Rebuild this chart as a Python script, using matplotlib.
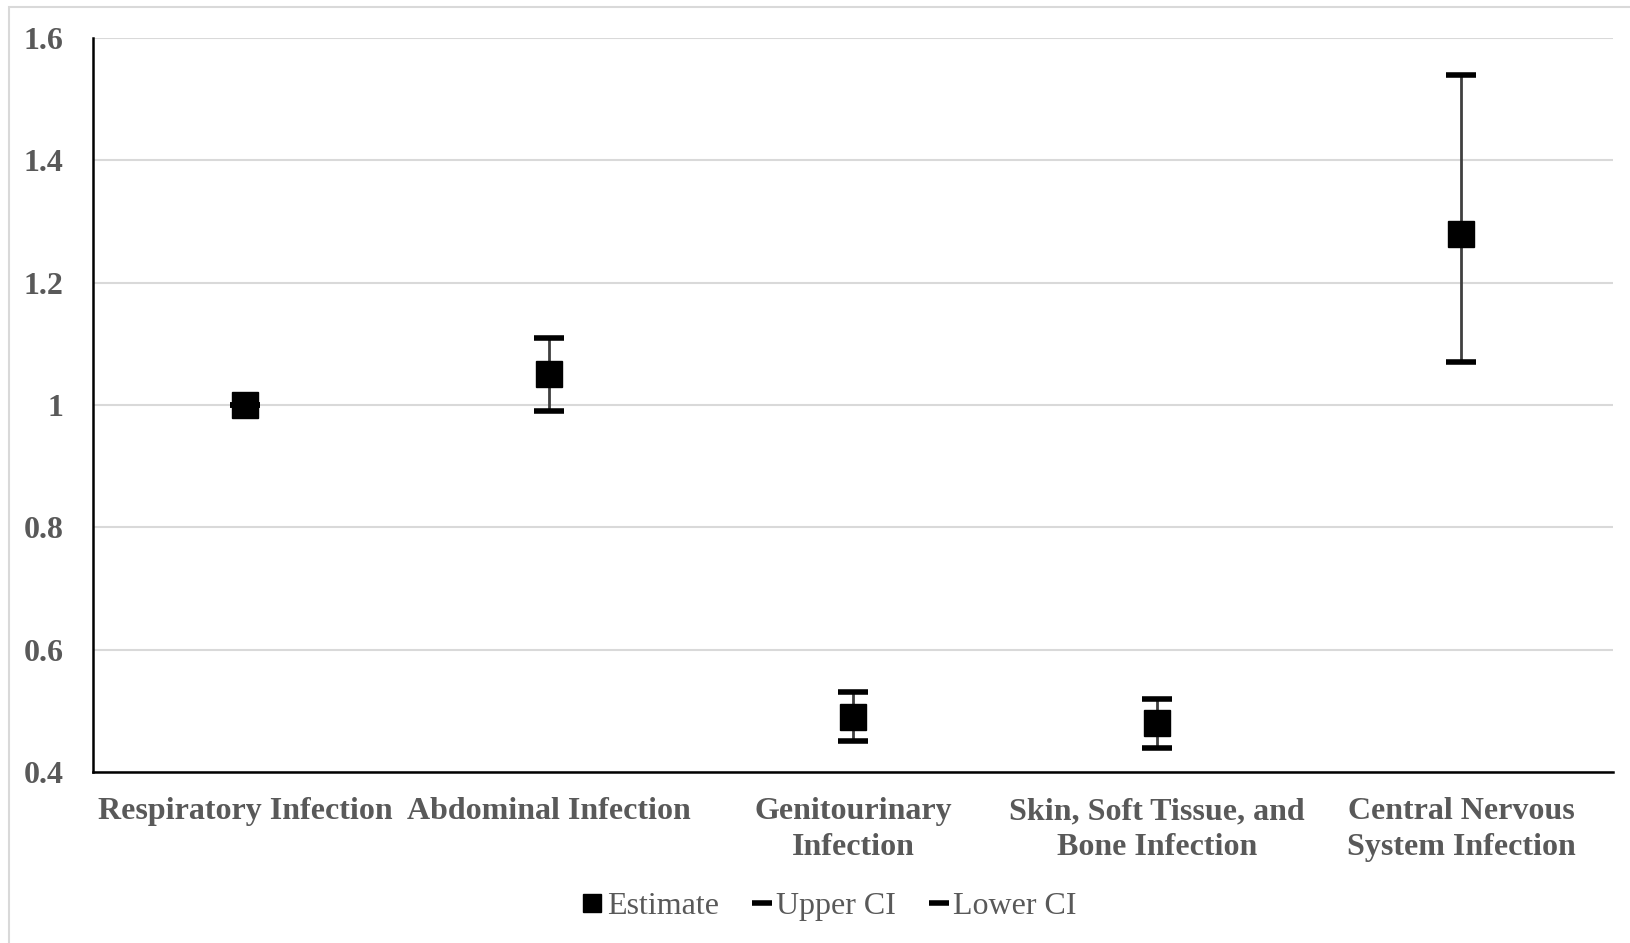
import matplotlib
matplotlib.use('Agg')
import matplotlib.pyplot as plt
from matplotlib.patches import Rectangle
from matplotlib.lines import Line2D

categories = ['Respiratory Infection', 'Abdominal Infection', 'Genitourinary\nInfection',
              'Skin, Soft Tissue, and\nBone Infection', 'Central Nervous\nSystem Infection']
estimate = [1.00, 1.05, 0.49, 0.48, 1.28]
upperCI = [1.00, 1.11, 0.53, 0.52, 1.54]
lowerCI = [1.00, 0.99, 0.45, 0.44, 1.07]
yTicks = [0.4, 0.6, 0.8, 1.0, 1.2, 1.4, 1.6]
yTickLabels = ['0.4', '0.6', '0.8', '1', '1.2', '1.4', '1.6']

textGray = '#595959'
plt.rcParams['font.family'] = ['Liberation Serif', 'DejaVu Serif']

fig = plt.figure(figsize=(16.31, 9.43), dpi=100)
# chart area frame, running off the right and bottom edges
fig.patches.append(Rectangle((9/1631, -0.1), 1.2, 1.1 - 7/943, transform=fig.transFigure,
                             fill=False, edgecolor='#d9d9d9', linewidth=1.5, zorder=0))
ax = fig.add_axes([93/1631, 1 - 772/943, 1520/1631, 734/943])

x = [i + 0.5 for i in range(len(categories))]

# high-low lines between the confidence limits
ax.vlines(x, lowerCI, upperCI, color='#404040', linewidth=2, zorder=3)
ax.plot(x, upperCI, linestyle='none', marker='_', markersize=21, markeredgewidth=4,
        color='black', zorder=4)
ax.plot(x, lowerCI, linestyle='none', marker='_', markersize=21, markeredgewidth=4,
        color='black', zorder=4)
ax.plot(x, estimate, linestyle='none', marker='s', markersize=19, color='black', zorder=5)

ax.set_xlim(0, len(categories))
ax.set_ylim(0.4, 1.6)
ax.set_yticks(yTicks)
ax.set_yticklabels(yTickLabels)
ax.set_xticks(x)
ax.set_xticklabels(categories, linespacing=1.3)
ax.grid(axis='y', color='#d9d9d9', linewidth=1.5)
ax.set_axisbelow(True)
for side in ('top', 'right'):
    ax.spines[side].set_visible(False)
ax.spines['left'].set_linewidth(1.8)
ax.spines['bottom'].set_linewidth(1.8)
ax.tick_params(axis='both', length=0, labelsize=23, labelcolor=textGray)
ax.tick_params(axis='y', pad=21)
ax.tick_params(axis='x', pad=18)
for lbl in ax.get_xticklabels() + ax.get_yticklabels():
    lbl.set_fontweight('bold')

handles = [Line2D([], [], linestyle='none', marker='s', markersize=13, color='black'),
           Line2D([], [], linestyle='none', marker='_', markersize=14, markeredgewidth=4, color='black'),
           Line2D([], [], linestyle='none', marker='_', markersize=14, markeredgewidth=4, color='black')]
leg = fig.legend(handles, ['Estimate', 'Upper CI', 'Lower CI'], loc='center',
                 bbox_to_anchor=(829/1631, 1 - 906/943), ncol=3, frameon=False,
                 prop={'family': 'Liberation Serif', 'size': 23},
                 handlelength=0.7, handletextpad=0.1, columnspacing=1.0)
for t in leg.get_texts():
    t.set_color(textGray)

fig.savefig('out.png', dpi=100)
